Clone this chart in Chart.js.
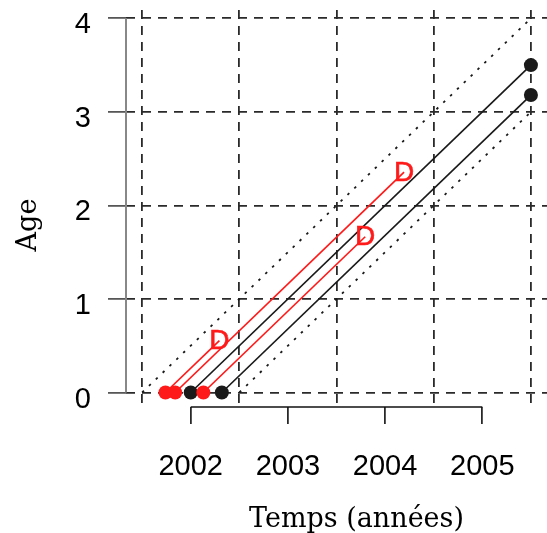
<!DOCTYPE html>
<html>
<head>
<meta charset="utf-8">
<script src="https://cdn.jsdelivr.net/npm/chart.js@4/dist/chart.umd.min.js"></script>
<style>
  html, body { margin: 0; padding: 0; background: #fff; overflow: hidden; }
  #wrap { width: 594px; height: 533px; }
</style>
</head>
<body>
<div id="wrap"><canvas id="lexis" width="594" height="533"></canvas></div>
<script>
// Lexis diagram: one life line per subject, from birth (age 0) to exit.
const entryYears = [2001.74, 2001.84, 2002.13, 2002.00, 2002.32];
const exitYears  = [2002.295, 2004.195, 2003.795, 2005.5, 2005.5];
const exitAges   = [0.555, 2.355, 1.665, 3.5, 3.18];
const deceased   = [true, true, true, false, false];

// Cohort band (born between the two dates), followed up to the end date.
const cohortBirths = [2001.5, 2002.5];
const cohortEndYear = 2005.5;
const cohortEndAges = [4, 3];

// Axis ticks and reference grid.
const yearTicks = [2002, 2003, 2004, 2005];
const gridYears = [2001.5, 2002.5, 2003.5, 2004.5, 2005.5];
const ageTicks  = [0, 1, 2, 3, 4];

const RED = '#ff1a1a';
const BLACK = '#1a1a1a';

const datasets = [];
entryYears.forEach((start, i) => {
  const col = deceased[i] ? RED : BLACK;
  datasets.push({
    data: [{x: start, y: 0}, {x: exitYears[i], y: exitAges[i]}],
    borderColor: col,
    borderWidth: 1.7,
    pointBackgroundColor: col,
    pointBorderWidth: 0,
    pointRadius: deceased[i] ? [7, 0] : [7, 7],
    showLine: true,
    order: deceased[i] ? 0 : 1,
    deathMark: deceased[i]
  });
});
cohortBirths.forEach((b, i) => {
  datasets.push({
    data: [{x: b, y: 0}, {x: cohortEndYear, y: cohortEndAges[i]}],
    borderColor: BLACK,
    borderWidth: 1.8,
    borderDash: [2.5, 7],
    pointRadius: 0,
    showLine: true,
    order: 2
  });
});

// R-style axes, death markers and the vertical axis title.
const lexisDecor = {
  id: 'lexisDecor',
  afterDatasetsDraw(chart) {
    const ctx = chart.ctx;
    ctx.save();
    ctx.fillStyle = RED;
    ctx.strokeStyle = RED;
    ctx.lineWidth = 0.6;
    ctx.font = '28px "Liberation Sans", Arial, sans-serif';
    ctx.textAlign = 'center';
    ctx.textBaseline = 'middle';
    chart.data.datasets.forEach((ds, i) => {
      if (!ds.deathMark) return;
      const end = chart.getDatasetMeta(i).data[1];
      ctx.fillText('D', end.x, end.y + 1);
      ctx.strokeText('D', end.x, end.y + 1);
    });
    ctx.restore();
  },
  afterDraw(chart) {
    const ctx = chart.ctx;
    const xs = chart.scales.x, ys = chart.scales.y;
    const area = chart.chartArea;
    ctx.save();
    // age axis line between first and last tick
    ctx.strokeStyle = '#888';
    ctx.lineWidth = 2;
    ctx.beginPath();
    ctx.moveTo(area.left, ys.getPixelForValue(ageTicks[0]));
    ctx.lineTo(area.left, ys.getPixelForValue(ageTicks[ageTicks.length - 1]));
    ctx.stroke();
    // time axis line between first and last tick
    ctx.strokeStyle = '#111';
    ctx.lineWidth = 1.6;
    ctx.beginPath();
    ctx.moveTo(xs.getPixelForValue(yearTicks[0]), area.bottom);
    ctx.lineTo(xs.getPixelForValue(yearTicks[yearTicks.length - 1]), area.bottom);
    ctx.stroke();
    // vertical axis title
    ctx.fillStyle = '#000';
    ctx.font = '27px "DejaVu Serif", serif';
    ctx.textAlign = 'center';
    ctx.textBaseline = 'alphabetic';
    ctx.translate(36, 225);
    ctx.rotate(-Math.PI / 2);
    ctx.fillText('Age', 0, 0);
    ctx.restore();
  }
};

const isGridYear = v => gridYears.includes(v);
const noPadding = s => { s.paddingTop = 0; s.paddingBottom = 0; s.paddingLeft = 0; s.paddingRight = 0; };
const tickFont = { family: '"Liberation Sans", Arial, sans-serif', size: 29 };

new Chart(document.getElementById('lexis'), {
  type: 'scatter',
  data: { datasets },
  plugins: [lexisDecor],
  options: {
    responsive: false,
    animation: false,
    layout: { padding: { top: 10, left: 0, right: 0, bottom: 0 } },
    plugins: { legend: { display: false }, tooltip: { enabled: false } },
    scales: {
      x: {
        type: 'linear',
        min: 2001.334,
        max: 2006.077,
        afterBuildTicks: s => {
          s.ticks = gridYears.concat(yearTicks).sort((a, b) => a - b).map(v => ({ value: v }));
        },
        afterFit: s => { s.height = 126; noPadding(s); },
        border: { display: false, dash: [9, 7] },
        grid: {
          color: c => (c.tick && isGridYear(c.tick.value)) ? '#2a2a2a' : 'rgba(0,0,0,0)',
          lineWidth: 1.8,
          drawTicks: true,
          tickLength: 17,
          tickColor: c => (c.tick && isGridYear(c.tick.value)) ? 'rgba(0,0,0,0)' : '#111',
          tickWidth: 1.6
        },
        ticks: {
          autoSkip: false,
          maxRotation: 0,
          padding: 26,
          color: '#000',
          font: tickFont,
          callback: v => yearTicks.includes(v) ? String(v) : ''
        },
        title: {
          display: true,
          text: 'Temps (années)',
          color: '#000',
          font: { family: '"DejaVu Serif", serif', size: 27, lineHeight: 1 },
          padding: { top: 0, bottom: 0 }
        }
      },
      y: {
        type: 'linear',
        min: -0.155,
        max: 4.089,
        afterBuildTicks: s => { s.ticks = ageTicks.map(v => ({ value: v })); },
        afterFit: s => { s.width = 126; noPadding(s); },
        border: { display: false, dash: [9, 7] },
        grid: {
          color: '#2a2a2a',
          lineWidth: 1.8,
          drawTicks: true,
          tickLength: 18,
          tickColor: '#444',
          tickWidth: 1.6
        },
        ticks: {
          padding: 17,
          labelOffset: 7,
          color: '#000',
          font: tickFont,
          callback: v => String(v)
        }
      }
    }
  }
});
</script>
</body>
</html>
